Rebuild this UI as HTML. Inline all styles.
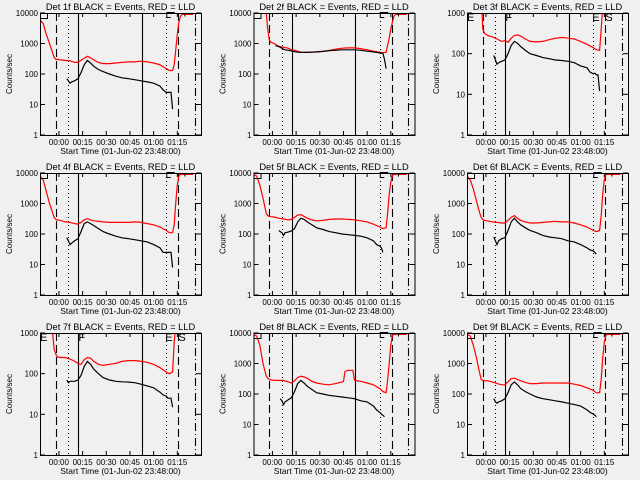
<!DOCTYPE html>
<html><head><meta charset="utf-8"><style>
html,body{margin:0;padding:0;background:#f0f0f0;}
svg{display:block;font-family:"Liberation Sans",sans-serif;}
</style></head><body>
<svg id="chart" width="640" height="480" viewBox="0 0 640 480" xmlns="http://www.w3.org/2000/svg">
<rect width="640" height="480" fill="#f0f0f0"/>
</svg>
<script>
const redTimes = [0,2,4,6,8,9,10,11,13,16,19,22,24,26,28,30,32,34,37,40,44,48,52,56,57,58,60,63,64,68,72,76,80,82,84,85,86,87,88,89,90,92,95,97];
const blackTimes = [14,16,17,18,19,20,22,24,26,28,30,32,34,37,40,44,48,52,56,60,64,68,72,76,78,80,81,82,83,84];
const xTickLabels = ["00:00","00:15","00:30","00:45","01:00","01:15"];
const xTickTimes = [12,27,42,57,72,87];
const detNames = ["1f","2f","3f","4f","5f","6f","7f","8f","9f"];
const decades = [4,4,3,4,4,4,3,4,4];
const red1 = [6000,4500,2000,1000,500,350,300,300,290,280,270,240,240,280,330,380,340,290,240,220,220,230,240,250,250,250,250,260,260,250,230,200,150,130,130,200,600,2000,5000,8000,9000,9000,9000,9000];
const red2 = [15000,15000,15000,15000,12000,3000,1300,1100,1000,800,750,700,620,600,560,520,520,510,520,530,550,600,650,700,700,710,720,720,720,680,620,560,520,500,520,900,1500,3000,5000,8000,9000,9000,9000,9000];
const red3 = [5000,5000,5000,5000,5000,3000,400,320,280,260,230,200,210,190,240,280,290,270,230,200,195,200,220,240,240,245,250,245,240,230,200,170,140,125,120,400,1500,5000,5000,5000,5000,5000,5000,5000];
const red4 = [8000,6000,2500,1000,500,350,300,290,280,250,240,220,210,240,290,320,290,270,260,250,240,240,240,240,240,245,250,245,240,220,200,170,130,110,110,200,1000,4000,8000,9000,9000,9000,9000,9000];
const red5 = [9000,8000,4000,1500,500,400,380,370,360,330,310,290,300,350,420,430,380,330,290,270,280,300,310,310,310,305,300,295,290,270,250,210,170,150,160,500,2000,5000,8500,9000,9000,9000,9000,9000];
const red6 = [8000,6000,3000,1200,500,350,300,280,270,250,240,230,230,280,350,400,330,280,250,230,230,240,250,260,255,255,250,250,250,230,200,170,130,120,130,400,2000,6000,9000,9000,9000,9000,9000,9000];
const red7 = [5000,5000,5000,5000,1000,400,300,260,250,250,230,200,180,170,220,250,240,200,170,160,170,180,200,210,210,210,210,205,200,190,170,140,110,100,110,600,1500,5000,5000,5000,5000,5000,5000,5000];
const red8 = [9000,8000,4000,1000,400,330,300,290,280,280,280,250,230,270,350,380,360,330,260,230,210,200,220,250,260,550,600,600,280,260,230,200,150,120,110,300,1000,4000,8500,9000,9000,9000,9000,9000];
const red9 = [9000,8000,4000,1500,500,300,280,275,270,250,220,200,200,250,320,330,300,270,240,220,220,230,230,230,230,230,230,230,230,210,190,160,130,110,110,300,1500,5000,8500,9000,9000,9000,9000,9000];
const black1 = [null,null,70,60,50,55,60,70,110,200,280,230,180,140,120,100,85,75,70,65,60,55,50,40,30,25,25,25,25,7];
const black2 = [850,800,750,700,650,620,600,570,540,520,510,510,510,520,530,550,580,600,620,620,620,600,560,530,510,490,480,480,300,150];
const black3 = [null,null,90,70,55,60,65,70,100,160,200,180,150,120,100,90,80,75,70,68,65,60,50,45,35,32,33,30,30,12];
const black4 = [null,null,75,60,45,50,60,70,120,220,250,220,190,150,120,100,85,75,70,65,60,55,45,35,25,25,25,25,25,8];
const black5 = [null,130,120,110,90,110,115,125,150,250,330,300,250,200,160,140,120,110,100,95,90,85,75,60,45,40,35,25,null,null];
const black6 = [null,null,80,60,45,60,70,75,130,250,330,250,200,160,130,110,90,80,75,70,60,55,45,35,30,28,25,22,null,null];
const black7 = [null,null,70,60,65,65,65,70,90,150,200,170,130,100,80,70,65,63,62,60,55,50,45,35,30,28,25,25,25,15];
const black8 = [null,null,70,60,45,55,65,75,120,220,280,230,180,140,110,100,90,85,80,75,70,60,55,40,30,25,22,20,18,null];
const black9 = [null,null,70,55,50,55,60,70,110,200,250,200,150,120,100,80,70,65,60,55,50,45,40,30,25,22,20,18,null,null];
const reds = [red1,red2,red3,red4,red5,red6,red7,red8,red9];
const blacks = [black1,black2,black3,black4,black5,black6,black7,black8,black9];
const vlineTimes = [10,18,24.3,64.5,80,87.7,98];
const vlineStyles = ["8,4","1,3","","","1,3","8,4","8,3,1,3"];

const NS = "http://www.w3.org/2000/svg";
const svg = document.getElementById("chart");
function mk(tag, attrs, parent){const e=document.createElementNS(NS,tag);for(const k in attrs)e.setAttribute(k,attrs[k]);(parent||svg).appendChild(e);return e;}

const T0=0,T1=102,W=161,H=122;
for(let p=0;p<9;p++){
  const col=p%3,row=Math.floor(p/3);
  const L=40+213.5*col, T=13+160*row;
  const dec=decades[p];
  const xs=t=>L+(t-T0)/(T1-T0)*W;
  const ys=v=>T+H-Math.log10(v)/dec*H;
  const g=mk("g",{});
  
  
  const cid="clip"+p;
  const cp=mk("clipPath",{id:cid},g);
  mk("rect",{x:L,y:T,width:W,height:H},cp);
  const tt=mk("text",{x:L+W/2,y:T-3,"text-anchor":"middle","font-size":"9.3",fill:"#000"},g);
  tt.textContent="Det "+detNames[p]+" BLACK = Events, RED = LLD";
  
  
  const yl=mk("text",{x:0,y:0,"text-anchor":"middle","font-size":"8",fill:"#000",transform:"translate("+(L-28)+","+(T+H/2)+") rotate(-90)"},g);
  yl.textContent="Counts/sec";
  
  
  const xt=mk("text",{x:L+W/2,y:T+H+19,"text-anchor":"middle","font-size":"8.5",fill:"#000"},g);
  xt.textContent="Start Time (01-Jun-02 23:48:00)";
  
  
  for(let d=0;d<=dec;d++){
    const y=ys(Math.pow(10,d));
    mk("line",{x1:L,x2:L+5,y1:y,y2:y,stroke:"#000","stroke-width":1},g);
    mk("line",{x1:L+W-5,x2:L+W,y1:y,y2:y,stroke:"#000","stroke-width":1},g);
    const lb=mk("text",{x:L-2,y:y+3,"text-anchor":"end","font-size":"8",fill:"#000"},g);
    lb.textContent=String(Math.pow(10,d));
    
    
  }
  for(let i=0;i<xTickTimes.length;i++){
    const x=xs(xTickTimes[i]);
    mk("line",{x1:x,x2:x,y1:T+H,y2:T+H-4,stroke:"#000","stroke-width":1},g);
    mk("line",{x1:x,x2:x,y1:T,y2:T+4,stroke:"#000","stroke-width":1},g);
    const lb=mk("text",{x:x,y:T+H+10,"text-anchor":"middle","font-size":"8",fill:"#000"},g);
    lb.textContent=xTickLabels[i];
    
    
  }
  const cg=mk("g",{"clip-path":"url(#"+cid+")"},g);
  for(let i=0;i<vlineTimes.length;i++){
    const x=Math.round(xs(vlineTimes[i]))+0.5;
    const a={x1:x,x2:x,y1:T,y2:T+H,stroke:"#000","stroke-width":1.1};
    if(vlineStyles[i])a["stroke-dasharray"]=vlineStyles[i];
    const ln=mk("line",a,cg);
    
    
  }
  function series(times,vals,color,name){
    let d="",pen=false;
    for(let i=0;i<times.length;i++){
      const v=vals[i];
      if(v==null){pen=false;continue;}
      d+=(pen?"L":"M")+xs(times[i]).toFixed(1)+","+ys(v).toFixed(1);
      pen=true;
    }
    const pth=mk("path",{d:d,fill:"none",stroke:color,"stroke-width":1.2},cg);
    
    
  }
  series(redTimes,reds[p],"#ff0000","lld-series");
  series(blackTimes,blacks[p],"#000000","events-series");
  if(dec===3){
    const letters=[["E",L],["F",xs(24.3)],["E",xs(80)-1],["S",xs(87.7)]];
    letters.forEach(m=>{
      const t=mk("text",{x:m[1],y:T+8,"font-size":"11",fill:"#000"},g);
      t.textContent=m[0];
      
      
    });
  } else {
    mk("rect",{x:L+0.5,y:T+0.5,width:7,height:5,fill:"none",stroke:"#000"},g);
    const x1=xs(80)+0.5;
    mk("path",{d:"M"+(x1+8)+","+(T-0.5)+"H"+x1+"V"+(T+4.5)+"H"+(x1+4),fill:"none",stroke:"#000"},g);
    const x2=xs(87.7)+2.5;
    mk("path",{d:"M"+x2+","+(T+0.5)+"H"+(x2+4)+"V"+(T+3.5),fill:"none",stroke:"#000"},g);
  }
  const fr=mk("rect",{x:L+0.5,y:T+0.5,width:W,height:H,fill:"none",stroke:"#000","stroke-width":1},g);
  
  
}
</script>
</body></html>
